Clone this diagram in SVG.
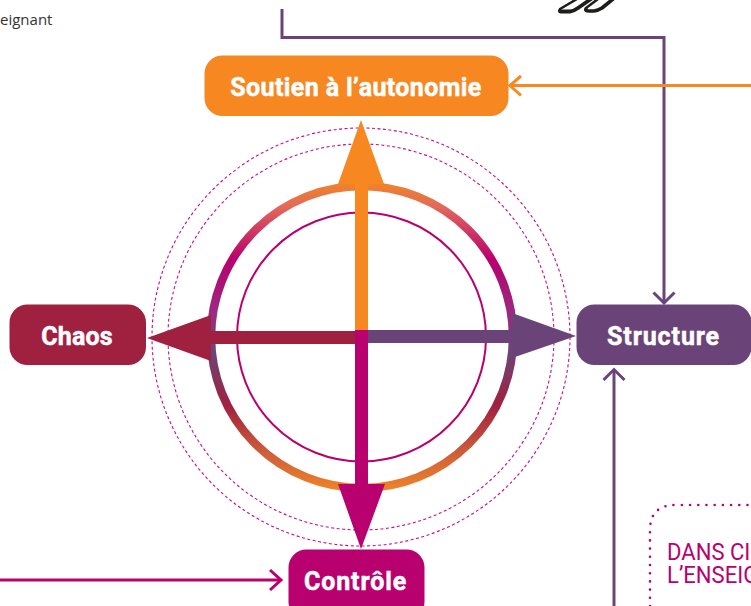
<svg xmlns="http://www.w3.org/2000/svg" width="751" height="606" viewBox="0 0 751 606">
<style>
.lab{font-family:Roboto,"Liberation Sans",sans-serif;font-weight:700;fill:#fff;stroke:#fff;stroke-width:.5;text-anchor:middle;font-size:25px}
.note{font-family:Roboto,"Liberation Sans",sans-serif;font-size:24px;fill:#b8006e}
.dot{fill:none;stroke:#c5107f;stroke-width:1.1;stroke-dasharray:3 2.5}
.conn{fill:none;stroke-width:3}
.head{fill:none;stroke-width:3}
</style>
<defs>
<linearGradient id="ring" gradientUnits="userSpaceOnUse" x1="0" y1="182" x2="0" y2="492">
<stop offset="0" stop-color="#f08526"/>
<stop offset="0.08" stop-color="#e2695a"/>
<stop offset="0.25" stop-color="#b8006e"/>
<stop offset="0.42" stop-color="#9a2a80"/>
<stop offset="0.55" stop-color="#6b4578"/>
<stop offset="0.72" stop-color="#a0203f"/>
<stop offset="0.88" stop-color="#d0603a"/>
<stop offset="1" stop-color="#f08526"/>
</linearGradient>
</defs>
<text x="0" y="25" font-family="'Open Sans','Noto Sans',sans-serif" font-size="15" fill="#333">eignant</text>
<g id="clip" fill="none" stroke="#1d1d1b" stroke-linecap="round" stroke-linejoin="round">
<path stroke-width="2.500" d="M577 -1L560 9"/>
<path stroke-width="3.800" d="M560 10.500Q559 12 563 11.500L570 11.500Q574 11 578 8L591 -1"/>
<path stroke-width="2.500" d="M598 -1L586 8"/>
<path stroke-width="3.600" d="M586 9Q585 11 589 11L594 11Q598 10.500 602 8L613 -1"/>
</g>
<g id="connectors">
<path class="conn" stroke="#6a4478" d="M282 9V37.500H664V302"/>
<path class="head" stroke="#6a4478" d="M653.500 292.500L664 303L674.500 292.500"/>
<path class="conn" stroke="#f78822" d="M751 85.500H511"/>
<path class="head" stroke="#f78822" d="M521 76L510 85.500L521 95.500"/>
<path class="conn" stroke="#6a4478" d="M614 606V371"/>
<path class="head" stroke="#6a4478" d="M603.500 380L614 369.500L624.500 380"/>
<path class="conn" stroke="#b8006e" d="M0 580H280"/>
<path class="head" stroke="#b8006e" d="M270 570L281 580L270 590"/>
</g>
<g id="rings">
<circle class="dot" cx="361" cy="337" r="209"/>
<circle class="dot" cx="361" cy="337" r="193"/>
<circle cx="362" cy="337" r="151" fill="none" stroke="url(#ring)" stroke-width="8.500"/>
<circle cx="361.500" cy="337" r="124.500" fill="none" stroke="#b8006e" stroke-width="2"/>
</g>
<g id="arrows">
<polygon fill="#f68721" points="361,120 384,184 368,184 368,331 355,331 355,184 338,184"/>
<polygon fill="#6a4478" points="576,336 512,313 512,330 368,330 368,343 512,343 512,358"/>
<polygon fill="#a0203f" points="147,338 211,315 211,331 355,331 355,344 211,344 211,361"/>
<polygon fill="#b8006e" points="361,549 338,484 355,484 355,330 368,330 368,484 385,484"/>
</g>
<g id="autonomie">
<rect x="204.500" y="55.500" width="304" height="60.500" rx="18" fill="#f68721"/>
<text class="lab" x="356" y="95.500" letter-spacing=".4">Soutien à l’autonomie</text>
</g>
<g id="chaos">
<rect x="9.500" y="304.500" width="136.500" height="60.500" rx="18" fill="#a0203f"/>
<text class="lab" x="77" y="344.500" letter-spacing=".2">Chaos</text>
</g>
<g id="structure">
<rect x="576.500" y="304.500" width="175" height="60.500" rx="18" fill="#6a4478"/>
<text class="lab" x="663.500" y="344.500" letter-spacing=".9">Structure</text>
</g>
<g id="controle">
<rect x="288.500" y="549.500" width="136" height="70" rx="18" fill="#b8006e"/>
<text class="lab" x="355.500" y="589.500" letter-spacing=".9">Contrôle</text>
</g>
<g id="note">
<path fill="none" stroke="#b8006e" stroke-width="2.600" stroke-linecap="round" stroke-dasharray="0 8.200" d="M650 606V530Q650 505 676 505H751"/>
<text class="note" transform="translate(667 559.500) scale(.92 1)">DANS CI</text>
<text class="note" transform="translate(667 582.500) scale(.92 1)">L’ENSEIG</text>
</g>
</svg>
